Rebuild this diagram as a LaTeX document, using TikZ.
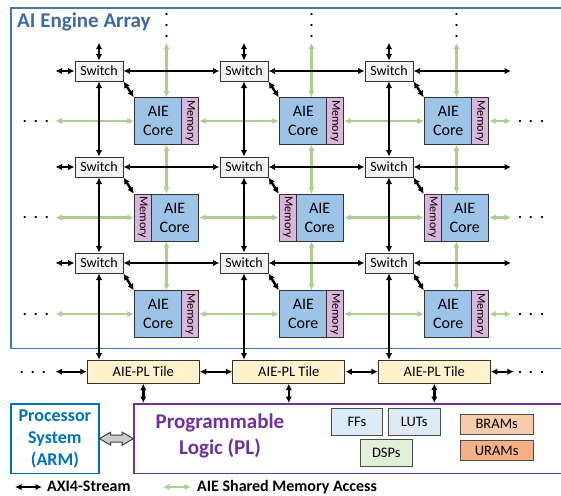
\documentclass[tikz,border=0pt]{standalone}
\usepackage{fontspec}
\setmainfont{Carlito}
\usetikzlibrary{arrows.meta, positioning, shapes.arrows, calc}

\definecolor{arrayblue}{RGB}{72,118,176}
\definecolor{titleblue}{RGB}{62,106,158}
\definecolor{corefill}{RGB}{157,195,230}
\definecolor{memfill}{RGB}{218,182,218}
\definecolor{shmgreen}{RGB}{169,209,142}
\definecolor{tilefill}{RGB}{255,242,204}
\definecolor{psblue}{RGB}{0,112,192}
\definecolor{plpurple}{RGB}{112,48,160}
\definecolor{fffill}{RGB}{221,235,247}
\definecolor{dspfill}{RGB}{226,240,217}
\definecolor{bramfill}{RGB}{248,203,173}
\definecolor{uramfill}{RGB}{244,177,131}

\tikzset{
  switch/.style={draw=black!80, line width=1pt, fill=black!5, minimum width=48,
    minimum height=20, inner sep=0, font=\fontsize{14}{17}\selectfont},
  tile/.style={minimum width=65, minimum height=47, inner sep=0},
  core/.style={draw=black!80, line width=1pt, fill=corefill, minimum width=48,
    minimum height=47, inner sep=0, align=center, font=\fontsize{16}{19}\selectfont},
  mem/.style={draw=black!80, line width=1pt, fill=memfill, rotate=-90, minimum width=47,
    minimum height=17, inner sep=0, font=\fontsize{12}{14}\selectfont},
  pltile/.style={draw=black!80, line width=1pt, fill=tilefill, minimum width=112,
    minimum height=23, inner sep=0, font=\fontsize{14.5}{17}\selectfont},
  res/.style={draw=black!70, line width=1pt, inner sep=0, font=\fontsize{14.5}{17}\selectfont},
  axi/.style={<->, line width=2.4pt},
  shm/.style={<->, line width=2.4pt, draw=shmgreen},
  hdots/.style={inner sep=0, font=\bfseries\fontsize{15}{10}\selectfont},
  legend/.style={anchor=base west, inner sep=0, font=\bfseries\fontsize{16}{19}\selectfont}
}

\begin{document}
\begin{tikzpicture}[x=1pt, y=-1pt, >={Latex[length=6.5pt,width=6.5pt]}]
  \clip (0,0) rectangle (561,495);

  % AI engine array
  \node[draw=arrayblue, line width=1.8pt, minimum width=570, minimum height=340,
    anchor=north west, inner sep=0] (array) at (10,7.5) {};
  \node[anchor=west, inner sep=0, text=titleblue,
    font=\bfseries\fontsize{21}{25}\selectfont] (title) at (17,22) {AI Engine Array};

  \coordinate (top) at (0,42.7);
  \coordinate (lft) at (55.5,0);
  \coordinate (rgt) at (511,0);

  \foreach \r in {1,2,3} {
    \foreach \c in {1,2,3} {
      \node[switch] (sw\r\c) at ({99+145*(\c-1)}, {71+96*(\r-1)}) {Switch};
      \node[tile] (tile\r\c) at ({166.5+145*(\c-1)}, {121+96.5*(\r-1)}) {};
      \ifnum\r=2
        \node[core, anchor=east] (core\r\c) at (tile\r\c.east) {AIE\\Core};
        \node[mem, anchor=south] (mem\r\c) at (tile\r\c.west) {Memory};
      \else
        \node[core, anchor=west] (core\r\c) at (tile\r\c.west) {AIE\\Core};
        \node[mem, anchor=north] (mem\r\c) at (tile\r\c.east) {Memory};
      \fi
    }
    \node[hdots] (ldots\r) at (36,{121+96.5*(\r-1)}) {.\hspace{7pt}.\hspace{7pt}.};
    \node[hdots] (rdots\r) at (531,{121+96.5*(\r-1)}) {.\hspace{7pt}.\hspace{7pt}.};
  }

  % shared memory access
  \foreach \c in {1,2,3} {
    \node[hdots, rotate=90] (vdots\c) at ({166.7+145*(\c-1)},25) {.\hspace{7pt}.\hspace{7pt}.};
    \draw[shm] (tile1\c.north) -- (tile1\c.north |- top);
    \draw[shm] (tile1\c.south) -- (tile2\c.north);
    \draw[shm] (tile2\c.south) -- (tile3\c.north);
  }
  \foreach \r in {1,2,3} {
    \draw[shm] (tile\r1.west) -- (tile\r1.west -| lft);
    \draw[shm] (tile\r1.east) -- (tile\r2.west);
    \draw[shm] (tile\r2.east) -- (tile\r3.west);
    \draw[shm] (tile\r3.east) -- (tile\r3.east -| rgt);
  }

  % AIE-PL tiles
  \foreach \c in {1,2,3}
    \node[pltile] (plt\c) at ({143.3+145.5*(\c-1)},371.7) {AIE-PL Tile};
  \node[hdots] (ldots4) at (33,372) {.\hspace{7pt}.\hspace{7pt}.};
  \node[hdots] (rdots4) at (531,372) {.\hspace{7pt}.\hspace{7pt}.};

  % AXI4-stream
  \foreach \r in {1,2,3} {
    \draw[axi] (sw\r1.west) -- (sw\r1.west -| lft);
    \draw[axi] (sw\r1.east) -- (sw\r2.west);
    \draw[axi] (sw\r2.east) -- (sw\r3.west);
    \draw[axi] (sw\r3.east) -- (sw\r3.east -| rgt);
    \foreach \c in {1,2,3}
      \draw[axi] (sw\r\c.south east) -- (tile\r\c.north west);
  }
  \foreach \c in {1,2,3} {
    \draw[axi] (sw1\c.north) -- (sw1\c.north |- top);
    \draw[axi] (sw1\c.south) -- (sw2\c.north);
    \draw[axi] (sw2\c.south) -- (sw3\c.north);
    \draw[axi] (sw3\c.south) -- (sw3\c.south |- plt\c.north);
  }
  \draw[axi] (plt1.west) -- (plt1.west -| lft);
  \draw[axi] (plt1.east) -- (plt2.west);
  \draw[axi] (plt2.east) -- (plt3.west);
  \draw[axi] (plt3.east) -- ++(23,0) coordinate (pltend);

  % processor system and programmable logic
  \node[draw=psblue, line width=1.8pt, minimum width=88, minimum height=69.5,
    anchor=north west, align=center, inner sep=0, text=psblue,
    font=\bfseries\fontsize{18}{22}\selectfont] (ps) at (10,403) {Processor\\System\\(ARM)};
  \node[draw=plpurple, line width=1.8pt, minimum width=445, minimum height=69.5,
    anchor=north west, inner sep=0] (pl) at (133,403) {};
  \node[align=center, inner sep=0, text=plpurple,
    font=\bfseries\fontsize{21}{26}\selectfont] (pltitle) at (220,436) {Programmable\\Logic (PL)};

  \foreach \c in {1,2,3}
    \draw[axi] (plt\c.south) -- (plt\c.south |- pl.north);

  \node[double arrow, draw=black!75, line width=1pt, fill=black!20, minimum height=34,
    inner sep=3pt, double arrow head extend=3pt, double arrow tip angle=60] (link)
    at ($(ps.east)!0.5!(pl.west)$) {};

  \node[res, fill=fffill, minimum width=51.7, minimum height=26.7] (ffs) at (356.9,422.3) {FFs};
  \node[res, fill=fffill, minimum width=51.7, minimum height=26.7] (luts) at (414.2,422.3) {LUTs};
  \node[res, fill=dspfill, minimum width=52, minimum height=27.4] (dsps) at (386.3,453) {DSPs};
  \node[res, fill=bramfill, minimum width=73.3, minimum height=20.3] (brams) at (496.7,424.2) {BRAMs};
  \node[res, fill=uramfill, minimum width=73.3, minimum height=20] (urams) at (496.7,450.7) {URAMs};

  % legend
  \coordinate (axia) at (15,487);
  \coordinate (axib) at (42,487);
  \coordinate (shma) at (163,487);
  \coordinate (shmb) at (191,487);
  \draw[axi] (axia) -- (axib);
  \node[legend] (axitext) at (47,491) {AXI4-Stream};
  \draw[shm] (shma) -- (shmb);
  \node[legend] (shmtext) at (197,491) {AIE Shared Memory Access};
\end{tikzpicture}
\end{document}
